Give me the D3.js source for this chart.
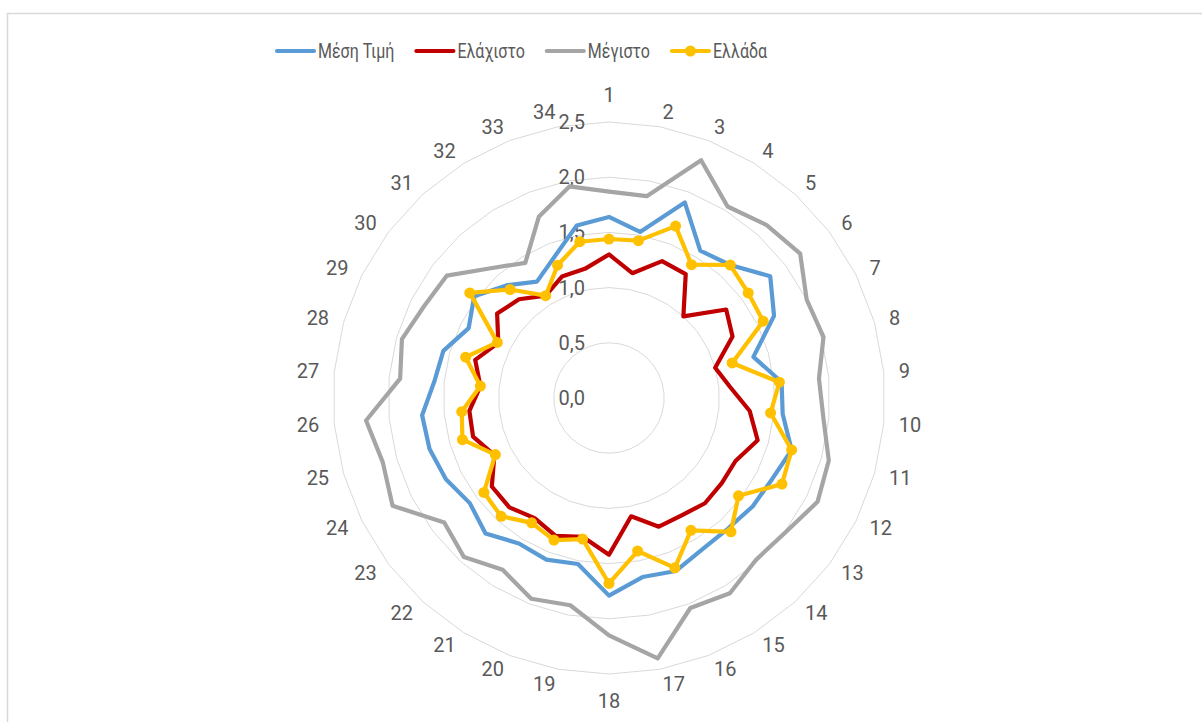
<!DOCTYPE html>
<html>
<head>
<meta charset="utf-8">
<script src="https://cdn.jsdelivr.net/npm/d3@7"></script>
<style>
  body { margin: 0; background: #fff; }
  svg { display: block; font-family: Roboto, "Noto Sans", sans-serif; }
</style>
</head>
<body>
<svg id="chart" width="1202" height="722"></svg>
<script>
// data
const categories = [1, 2, 3, 4, 5, 6, 7, 8, 9, 10, 11, 12, 13, 14, 15, 16, 17,
  18, 19, 20, 21, 22, 23, 24, 25, 26, 27, 28, 29, 30, 31, 32, 33, 34]

const meanValues = [1.64, 1.53, 1.90, 1.57, 1.63, 1.83, 1.67, 1.36, 1.57, 1.58, 1.72, 1.65,
  1.63, 1.60, 1.61, 1.68, 1.65, 1.79, 1.53, 1.57, 1.55, 1.66, 1.58, 1.65, 1.69, 1.70,
  1.59, 1.56, 1.42, 1.53, 1.38, 1.24, 1.37, 1.59]

const minValues = [1.30, 1.15, 1.33, 1.32, 1.00, 1.33, 1.25, 1.00, 1.10, 1.28, 1.40, 1.28,
  1.28, 1.29, 1.25, 1.25, 1.09, 1.42, 1.28, 1.34, 1.28, 1.34, 1.33, 1.16, 1.28, 1.27,
  1.17, 1.26, 1.12, 1.27, 1.21, 1.09, 1.18, 1.19]

const maxValues = [1.87, 1.86, 2.31, 2.04, 2.12, 2.17, 2.00, 2.02, 1.91, 1.95, 2.07, 2.11,
  2.01, 1.98, 2.08, 2.04, 2.40, 2.15, 1.91, 1.95, 1.83, 1.95, 1.87, 2.19, 2.13, 2.21,
  1.90, 1.95, 1.87, 1.84, 1.59, 1.44, 1.76, 1.95]

const greeceValues = [1.44, 1.45, 1.67, 1.42, 1.63, 1.58, 1.56, 1.16, 1.55, 1.47, 1.72, 1.75,
  1.47, 1.64, 1.41, 1.65, 1.41, 1.68, 1.30, 1.38, 1.33, 1.45, 1.42, 1.15, 1.38, 1.34,
  1.17, 1.35, 1.13, 1.58, 1.33, 1.09, 1.29, 1.44]

const tickValues = [0, 0.5, 1, 1.5, 2, 2.5]

const seriesNames = ["Μέση Τιμή", "Ελάχιστο", "Μέγιστο", "Ελλάδα"]
const seriesColors = ["#5b9bd5", "#c00000", "#a5a5a5", "#ffc000"]

// build series list (excel draws them in this order)
let series = [
  { name: seriesNames[0], values: meanValues, color: seriesColors[0], marker: false },
  { name: seriesNames[1], values: minValues, color: seriesColors[1], marker: false },
  { name: seriesNames[2], values: maxValues, color: seriesColors[2], marker: false },
  { name: seriesNames[3], values: greeceValues, color: seriesColors[3], marker: true },
]

let svg = d3.select("#chart")
let textColor = "#595959"

// chart border
svg.append("rect")
  .attr("x", 7.5).attr("y", 13.5)
  .attr("width", 1220).attr("height", 730)
  .attr("fill", "none")
  .attr("stroke", "#d9d9d9")
  .attr("stroke-width", 1.5)

let plotVars = ({
  cx: 609,
  cy: 398,
  radius: 276,
})

let plot = svg.append("g")
  .attr("transform", `translate(${plotVars.cx}, ${plotVars.cy})`)

// scales
let rScale = d3.scaleLinear()
  .domain([0, 2.5])
  .range([0, plotVars.radius])

let angleScale = d3.scaleLinear()
  .domain([0, categories.length])
  .range([0, 2 * Math.PI])

let fmt = d3.formatLocale({ decimal: ",", thousands: ".", grouping: [3], currency: ["", "€"] }).format(".1f")

// gridlines (34-gon per tick)
let gridLine = d3.lineRadial()
  .angle(function (d, i) { return angleScale(i) })
  .radius(function (d) { return rScale(d) })
  .curve(d3.curveLinearClosed)

plot.selectAll(".grid")
  .data(tickValues.filter(function (t) { return t > 0 }))
  .enter()
  .append("path")
  .attr("class", "grid")
  .attr("d", function (t) { return gridLine(categories.map(function () { return t })) })
  .attr("fill", "none")
  .attr("stroke", "#d9d9d9")
  .attr("stroke-width", 1)

// value axis labels
plot.selectAll(".tickLabel")
  .data(tickValues)
  .enter()
  .append("text")
  .attr("class", "tickLabel")
  .attr("x", -24)
  .attr("y", function (d) { return -rScale(d) })
  .attr("dy", "0.35em")
  .attr("text-anchor", "end")
  .style("font-size", "20px")
  .style("fill", textColor)
  .text(function (d) { return fmt(d) })

// category labels, pushed sideways by half their width like excel does
let catLabels = plot.selectAll(".catLabel")
  .data(categories)
  .enter()
  .append("text")
  .attr("class", "catLabel")
  .attr("text-anchor", "middle")
  .attr("dy", "0.35em")
  .style("font-size", "20px")
  .style("fill", textColor)
  .text(function (d) { return d })

catLabels.each(function (d, i) {
  let a = angleScale(i)
  let halfW = this.getComputedTextLength() / 2
  let x, y
  if (i == 0 || i == categories.length / 2) {
    x = 0
    y = -303 * Math.cos(a)
  } else {
    x = 291 * Math.sin(a) + Math.sign(Math.sin(a)) * halfW
    y = -291 * Math.cos(a)
  }
  d3.select(this).attr("x", x).attr("y", y)
})

// series lines
let seriesLine = d3.lineRadial()
  .angle(function (d, i) { return angleScale(i) })
  .radius(function (d) { return rScale(d) })
  .curve(d3.curveLinearClosed)

series.forEach(function (s) {
  plot.append("path")
    .attr("d", seriesLine(s.values))
    .attr("fill", "none")
    .attr("stroke", s.color)
    .attr("stroke-width", 4.2)
    .attr("stroke-linejoin", "round")

  if (s.marker) {
    plot.selectAll(".marker")
      .data(s.values)
      .enter()
      .append("circle")
      .attr("cx", function (d, i) { return rScale(d) * Math.sin(angleScale(i)) })
      .attr("cy", function (d, i) { return -rScale(d) * Math.cos(angleScale(i)) })
      .attr("r", 5.5)
      .style("fill", s.color)
  }
})

// legend
let legend = svg.append("g").attr("transform", "translate(277, 51)")
let condense = 0.8
let xPos = 0
series.forEach(function (s) {
  let item = legend.append("g").attr("transform", `translate(${xPos}, 0)`)
  item.append("line")
    .attr("x1", 0).attr("x2", 37)
    .attr("y1", 0).attr("y2", 0)
    .attr("stroke", s.color)
    .attr("stroke-width", 4.2)
    .attr("stroke-linecap", "round")
  if (s.marker) {
    item.append("circle").attr("cx", 18.5).attr("cy", 0).attr("r", 5.5).style("fill", s.color)
  }
  let t = item.append("text")
    .attr("x", 41)
    .attr("dy", "0.35em")
    .style("font-size", "20px")
    .style("fill", textColor)
    .text(s.name)
  let w = t.node().getComputedTextLength() * condense
  t.attr("textLength", w).attr("lengthAdjust", "spacingAndGlyphs")
  xPos += 41 + w + 22
})
</script>
</body>
</html>
